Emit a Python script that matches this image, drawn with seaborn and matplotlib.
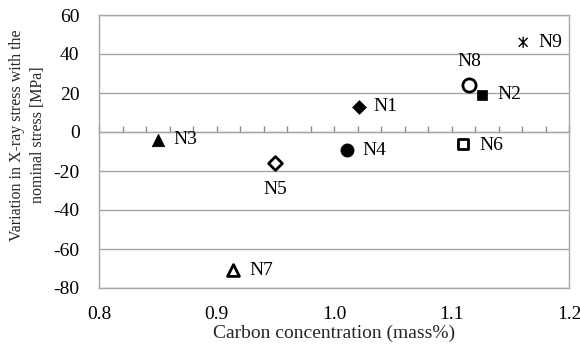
import matplotlib
matplotlib.use("Agg")
import matplotlib.pyplot as plt
import seaborn as sns
import pandas as pd
from matplotlib.path import Path
from matplotlib.ticker import MultipleLocator, NullFormatter

# Sample data
samples = ["N1", "N2", "N3", "N4", "N5", "N6", "N7", "N8", "N9"]
carbon = [1.021, 1.126, 0.850, 1.011, 0.950, 1.110, 0.914, 1.115, 1.161]
stress_var = [13, 19, -4, -9, -16, -6, -71, 24, 46]

# asterisk marker: an "x" with a vertical stroke through it
star_path = Path(
    [(-1, -1), (1, 1), (-1, 1), (1, -1), (0, -1.25), (0, 1.25)],
    [Path.MOVETO, Path.LINETO, Path.MOVETO, Path.LINETO, Path.MOVETO, Path.LINETO],
)

markers = ["D", "s", "^", "o", "D", "s", "^", "o", star_path]
filled = [True, True, True, True, False, False, False, False, True]
marker_sizes = [7, 7, 9, 9.5, 7, 7, 8.5, 9.5, 8]
label_offsets = [(15, 0), (15, 0), (16, 0), (15, -1), (0, -26),
                 (16, -2), (16, 0), (0, 24), (15, 0)]

df = pd.DataFrame({"sample": samples, "carbon": carbon, "stress": stress_var})

sns.set_style("white")
plt.rcParams["font.family"] = ["Liberation Serif", "DejaVu Serif"]
plt.rcParams["font.size"] = 14
plt.rcParams["axes.unicode_minus"] = False

fig = plt.figure(figsize=(5.8, 3.51), dpi=100)
ax = fig.add_axes([99 / 580, 1 - 288 / 351, 470 / 580, 273 / 351])

grid_color = "#a6a6a6"
fs = 14

for i, row in df.iterrows():
    sub = df.iloc[[i]]
    m = markers[i]
    if m is star_path:
        sns.scatterplot(data=sub, x="carbon", y="stress", marker=m, s=marker_sizes[i] ** 2,
                        facecolor="none", edgecolor="black", linewidth=1.0, ax=ax,
                        zorder=5, legend=False)
    elif filled[i]:
        sns.scatterplot(data=sub, x="carbon", y="stress", marker=m, s=marker_sizes[i] ** 2,
                        color="black", edgecolor="black", linewidth=0.5, ax=ax,
                        zorder=5, legend=False)
    else:
        sns.scatterplot(data=sub, x="carbon", y="stress", marker=m, s=marker_sizes[i] ** 2,
                        facecolor="white", edgecolor="black", linewidth=2, ax=ax,
                        zorder=5, legend=False)
    dx, dy = label_offsets[i]
    ha = "left" if dx > 0 else "center"
    ax.annotate(row["sample"], (row["carbon"], row["stress"]), xytext=(dx, dy),
                textcoords="offset pixels", ha=ha, va="center", fontsize=fs,
                color="black")

ax.set_xlim(0.8, 1.2)
ax.set_ylim(-80, 60)
ax.yaxis.set_major_locator(MultipleLocator(20))
ax.set_xticks([0.8, 0.9, 1.0, 1.1, 1.2])
ax.set_xticklabels(["0.8", "0.9", "1.0", "1.1", "1.2"])

ax.grid(axis="y", color=grid_color, linewidth=1)
ax.grid(axis="x", visible=False)
for sp in ax.spines.values():
    sp.set_color(grid_color)
    sp.set_linewidth(1)

ax.tick_params(axis="both", length=0, labelsize=fs, colors="black")
ax.tick_params(axis="y", pad=14)
ax.tick_params(axis="x", pad=13)

# horizontal axis line crossing at zero, with small upward ticks
sec = ax.secondary_xaxis(80 / 140)
sec.spines["bottom"].set_color("#8c8c8c")
sec.set_xticks([0.8 + 0.02 * k for k in range(21)])
sec.xaxis.set_major_formatter(NullFormatter())
sec.tick_params(axis="x", which="major", direction="in", length=4, width=1,
                color="#8c8c8c", bottom=True, top=False,
                labelbottom=False, labeltop=False)

ax.set_xlabel("Carbon concentration (mass%)", fontsize=fs, labelpad=1)
ax.set_ylabel("Variation in X-ray stress with the\nnominal stress [MPa]", fontsize=11.5,
              linespacing=1.45)
ax.yaxis.set_label_coords(-0.112, 0.56)

fig.savefig("out.png", dpi=100)
